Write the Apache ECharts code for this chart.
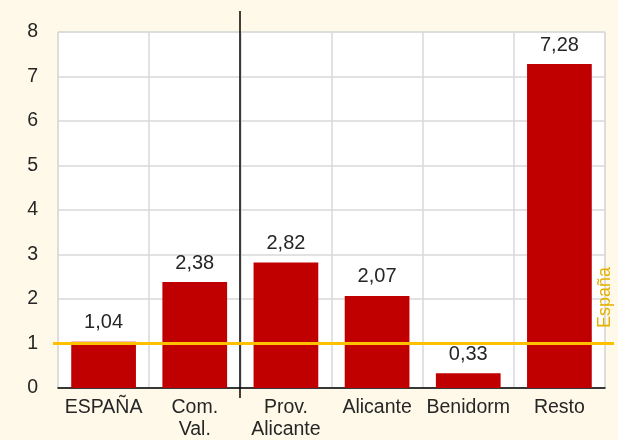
<!DOCTYPE html>
<html>
<head>
<meta charset="utf-8">
<script src="https://cdn.jsdelivr.net/npm/echarts@6/dist/echarts.min.js"></script>
<style>
  html, body { margin: 0; padding: 0; background: #FEF9E8; }
  #chart { width: 618px; height: 440px; }
</style>
</head>
<body>
<div id="chart"></div>
<script>
// datos
const categories = ['ESPAÑA', 'Com.\nVal.', 'Prov.\nAlicante', 'Alicante', 'Benidorm', 'Resto']
const values = [1.04, 2.38, 2.82, 2.07, 0.33, 7.28]
const referenceValue = 1          // línea España
const referenceLabel = 'España'
const yMin = 0
const yMax = 8
const yInterval = 1

const fontFamily = 'Liberation Sans, Arial, sans-serif'
const chart = echarts.init(document.getElementById('chart'))

chart.setOption({
  backgroundColor: '#FEF9E8',
  animation: false,
  grid: {
    left: 58,
    right: 13,
    top: 32,
    bottom: 52,
    outerBoundsMode: 'none',
    containLabel: false,
    show: true,
    backgroundColor: '#FFFFFF',
    borderColor: '#D9D9D9',
    borderWidth: 1
  },
  xAxis: {
    type: 'category',
    data: categories,
    axisTick: { show: false },
    axisLine: { show: true, lineStyle: { color: '#000', width: 1.5 } },
    axisLabel: {
      color: '#262626',
      fontSize: 19.5,
      fontFamily,
      lineHeight: 22,
      margin: 9,
      interval: 0
    },
    splitLine: { show: true, lineStyle: { color: '#D9D9D9', width: 1.5 } }
  },
  yAxis: {
    type: 'value',
    min: yMin,
    max: yMax,
    interval: yInterval,
    axisLine: { show: false },
    axisTick: { show: false },
    axisLabel: { color: '#262626', fontSize: 19.5, fontFamily, margin: 20 },
    splitLine: { lineStyle: { color: '#D9D9D9', width: 1.5 } }
  },
  series: [
    {
      type: 'bar',
      data: values,
      barCategoryGap: '29%',
      itemStyle: { color: '#C00000' },
      label: {
        show: true,
        position: 'top',
        distance: 9,
        color: '#262626',
        fontSize: 20,
        fontFamily,
        formatter: (p) => p.value.toFixed(2).replace('.', ',')
      }
    }
  ]
})

// líneas extra (separador y referencia España)
const drawExtras = () => {
  const x1 = chart.convertToPixel({ xAxisIndex: 0 }, categories[1])
  const x2 = chart.convertToPixel({ xAxisIndex: 0 }, categories[2])
  const sepX = Math.round((x1 + x2) / 2)
  const yTop = chart.convertToPixel({ yAxisIndex: 0 }, yMax)
  const yBottom = chart.convertToPixel({ yAxisIndex: 0 }, yMin)
  const yRef = chart.convertToPixel({ yAxisIndex: 0 }, referenceValue)
  const w = chart.getWidth()

  chart.setOption({
    graphic: [
      {
        type: 'line',
        z: 100,
        shape: { x1: sepX, y1: yTop - 21, x2: sepX, y2: yBottom + 10 },
        style: { stroke: '#000', lineWidth: 1.5 }
      },
      {
        type: 'line',
        z: 100,
        shape: { x1: 53, y1: yRef, x2: w - 4, y2: yRef },
        style: { stroke: '#FFC000', lineWidth: 3 }
      },
      {
        type: 'text',
        z: 100,
        x: w - 13,
        y: yRef - 46,
        rotation: Math.PI / 2,
        style: {
          text: referenceLabel,
          fill: '#E6B000',
          font: '18px ' + fontFamily,
          align: 'center',
          verticalAlign: 'middle'
        }
      }
    ]
  })
}

drawExtras()
</script>
</body>
</html>
